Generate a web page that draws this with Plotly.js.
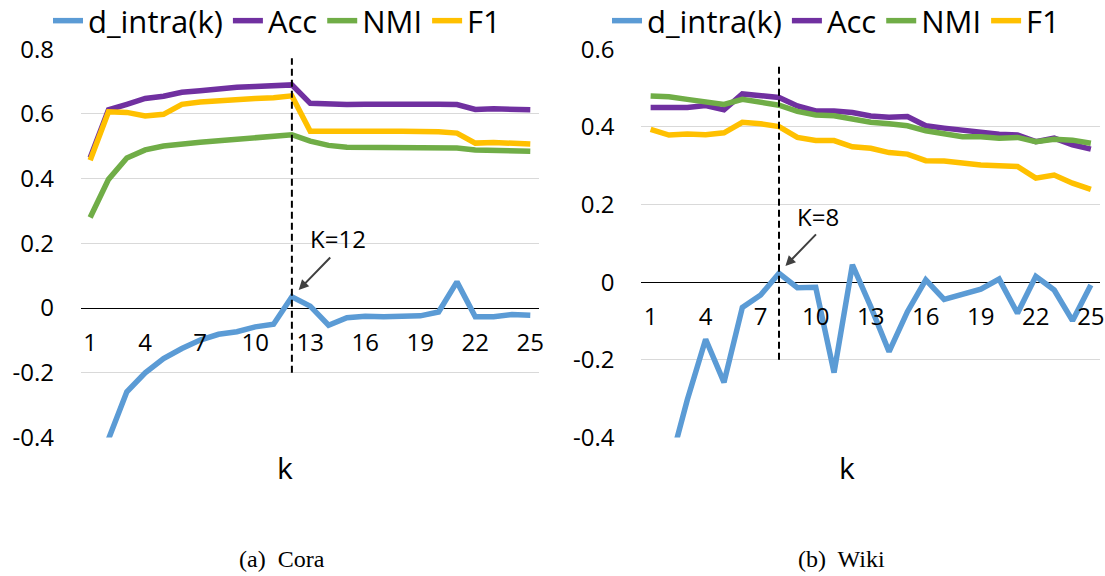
<!DOCTYPE html>
<html>
<head>
<meta charset="utf-8">
<script src="https://cdn.plot.ly/plotly-3.0.1.min.js"></script>
<style>html,body{margin:0;padding:0;background:#fff;}#chart{width:1105px;height:576px;}</style>
</head>
<body>
<div id="chart"></div>
<script>
// ---- data ----
var kValues = [1,2,3,4,5,6,7,8,9,10,11,12,13,14,15,16,17,18,19,20,21,22,23,24,25];
var xTickVals = [1,4,7,10,13,16,19,22,25];
var seriesNames = ["d_intra(k)", "Acc", "NMI", "F1"];
var seriesColors = ["#5B9BD5", "#7030A0", "#70AD47", "#FFC000"];

// Cora
var coraDintra = [-0.62,-0.405,-0.259,-0.200,-0.156,-0.125,-0.099,-0.081,-0.073,-0.058,-0.050,0.035,0.006,-0.053,-0.030,-0.025,-0.027,-0.027,-0.024,-0.012,0.081,-0.027,-0.027,-0.020,-0.022];
var coraAcc = [0.465,0.613,0.630,0.648,0.655,0.667,0.672,0.679,0.683,0.685,0.689,0.690,0.633,0.630,0.629,0.630,0.631,0.631,0.631,0.630,0.629,0.614,0.616,0.614,0.613];
var coraNMI = [0.280,0.398,0.464,0.489,0.501,0.508,0.513,0.517,0.522,0.526,0.530,0.536,0.516,0.503,0.497,0.497,0.497,0.497,0.497,0.496,0.495,0.489,0.487,0.486,0.485];
var coraF1 = [0.457,0.607,0.605,0.594,0.599,0.630,0.637,0.642,0.646,0.648,0.650,0.656,0.547,0.546,0.546,0.546,0.547,0.547,0.547,0.545,0.541,0.510,0.512,0.508,0.507];
var coraYTickVals = [0.8,0.6,0.4,0.2,0,-0.2,-0.4];
var coraYTickText = ["0.8","0.6","0.4","0.2","0","-0.2","-0.4"];
var coraBestK = 12;

// Wiki
var wikiDintra = [-0.62,-0.48,-0.303,-0.147,-0.258,-0.065,-0.033,0.023,-0.014,-0.013,-0.233,0.045,-0.063,-0.179,-0.076,0.006,-0.044,-0.030,-0.018,0.008,-0.080,0.015,-0.020,-0.099,-0.007];
var wikiAcc = [0.450,0.450,0.450,0.455,0.444,0.485,0.480,0.476,0.454,0.441,0.441,0.437,0.428,0.425,0.427,0.403,0.397,0.391,0.384,0.381,0.379,0.362,0.371,0.354,0.343];
var wikiNMI = [0.480,0.478,0.471,0.464,0.458,0.471,0.463,0.456,0.440,0.431,0.429,0.421,0.412,0.408,0.403,0.390,0.384,0.375,0.375,0.371,0.373,0.362,0.368,0.366,0.358];
var wikiF1 = [0.394,0.379,0.382,0.380,0.385,0.412,0.408,0.401,0.373,0.365,0.365,0.349,0.345,0.334,0.330,0.313,0.312,0.306,0.302,0.300,0.298,0.268,0.276,0.255,0.239];
var wikiYTickVals = [0.6,0.4,0.2,0,-0.2,-0.4];
var wikiYTickText = ["0.6","0.4","0.2","0","-0.2","-0.4"];
var wikiBestK = 8;

var captions = ["(a)\u00a0 Cora", "(b)\u00a0 Wiki"];
var xTitle = "k";

// ---- build ----
var coraSeries = [coraDintra, coraAcc, coraNMI, coraF1];
var wikiSeries = [wikiDintra, wikiAcc, wikiNMI, wikiF1];
var traces = [];
function addTraces(series, xa, ya, leg) {
  for (var i = 0; i < series.length; i++) {
    traces.push({
      type: "scatter", mode: "lines", x: kValues, y: series[i],
      name: seriesNames[i], xaxis: xa, yaxis: ya, legend: leg,
      line: {color: seriesColors[i], width: 5.5},
      hoverinfo: "skip"
    });
  }
}
addTraces(coraSeries, "x", "y", "legend");
addTraces(wikiSeries, "x2", "y2", "legend2");

var yDom = [0.2405, 0.9144];
var FONT = "'Open Sans', Lato, sans-serif";
var SERIF = "'Liberation Serif', 'DejaVu Serif', serif";
var tickFont = {family: FONT, size: 24, color: "#000"};

function xAxis(dom, pos) {
  return {domain: dom, range: [0.5, 25.5], tickvals: xTickVals, ticks: "",
    showgrid: false, zeroline: false, showline: false, anchor: "free", position: pos,
    tickfont: tickFont, ticklabelstandoff: 18, fixedrange: true};
}
function yAxis(range, tv, tt) {
  return {domain: yDom, range: range, tickvals: tv, ticktext: tt, ticks: "",
    showgrid: true, gridcolor: "#D9D9D9", gridwidth: 1,
    zeroline: true, zerolinecolor: "#000", zerolinewidth: 1,
    showline: false, tickfont: tickFont, ticklabelstandoff: 26, fixedrange: true};
}
function legendCfg(xpx) {
  return {orientation: "h", x: xpx/1105, xanchor: "left", y: 1 + 6/576, yanchor: "top",
    font: {family: FONT, size: 31, color: "#000"}, itemwidth: 30,
    bgcolor: "rgba(0,0,0,0)", borderwidth: 0};
}

var layout = {
  width: 1105, height: 576,
  margin: {l: 0, r: 0, t: 0, b: 0, pad: 0, autoexpand: false},
  paper_bgcolor: "#fff", plot_bgcolor: "#fff",
  font: {family: FONT, color: "#000"},
  showlegend: true,
  xaxis: xAxis([0.0733, 0.4882], yDom[0] + (yDom[1]-yDom[0]) * (0.4/1.2)),
  yaxis: Object.assign(yAxis([-0.4, 0.8], coraYTickVals, coraYTickText), {anchor: "x"}),
  xaxis2: xAxis([0.5805, 0.9955], yDom[0] + (yDom[1]-yDom[0]) * (0.4/1.0)),
  yaxis2: Object.assign(yAxis([-0.4, 0.6], wikiYTickVals, wikiYTickText), {anchor: "x2"}),
  legend: legendCfg(48),
  legend2: legendCfg(607),
  shapes: [
    {type: "line", xref: "x", yref: "y", x0: coraBestK, x1: coraBestK, y0: -0.2, y1: 0.772,
      line: {color: "#000", width: 2, dash: "7px,4px"}},
    {type: "line", xref: "x2", yref: "y2", x0: wikiBestK, x1: wikiBestK, y0: -0.2, y1: 0.564,
      line: {color: "#000", width: 2, dash: "7px,4px"}}
  ],
  annotations: [
    {xref: "x", yref: "y", x: 14.53, y: 0.215, text: "K=" + coraBestK, showarrow: false,
      xanchor: "center", yanchor: "middle", font: {family: FONT, size: 24, color: "#000"}},
    {xref: "x", yref: "y", x: 12.37, y: 0.056, text: "", showarrow: true, ax: 33, ay: -34,
      arrowhead: 2, arrowsize: 1, arrowwidth: 2, arrowcolor: "#404040"},
    {xref: "x2", yref: "y2", x: 10.1, y: 0.169, text: "K=" + wikiBestK, showarrow: false,
      xanchor: "center", yanchor: "middle", font: {family: FONT, size: 24, color: "#000"}},
    {xref: "x2", yref: "y2", x: 8.35, y: 0.042, text: "", showarrow: true, ax: 32, ay: -33,
      arrowhead: 2, arrowsize: 1, arrowwidth: 2, arrowcolor: "#404040"},
    {xref: "paper", yref: "paper", x: 285/1105, y: 1 - 467/576, text: xTitle, showarrow: false,
      xanchor: "center", yanchor: "middle", font: {family: FONT, size: 30, color: "#000"}},
    {xref: "paper", yref: "paper", x: 847/1105, y: 1 - 467/576, text: xTitle, showarrow: false,
      xanchor: "center", yanchor: "middle", font: {family: FONT, size: 30, color: "#000"}},
    {xref: "paper", yref: "paper", x: 281.5/1105, y: 1 - 559/576, text: captions[0], showarrow: false,
      xanchor: "center", yanchor: "middle", font: {family: SERIF, size: 24, color: "#000"}},
    {xref: "paper", yref: "paper", x: 841.5/1105, y: 1 - 559/576, text: captions[1], showarrow: false,
      xanchor: "center", yanchor: "middle", font: {family: SERIF, size: 24, color: "#000"}}
  ]
};

Plotly.newPlot("chart", traces, layout, {staticPlot: true, displayModeBar: false});
</script>
</body>
</html>
